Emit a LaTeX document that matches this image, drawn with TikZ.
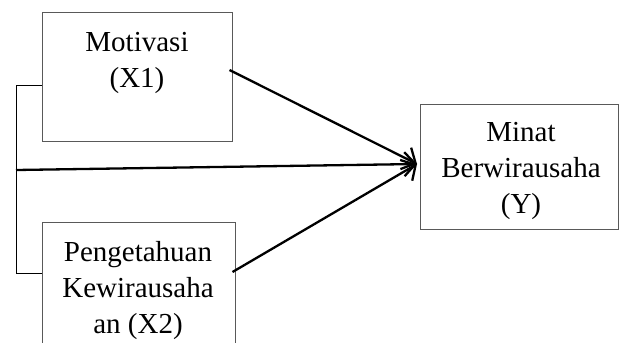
\documentclass[tikz,border=0pt]{standalone}
\usepackage{fontspec}
\setmainfont{Liberation Serif}
\usetikzlibrary{arrows.meta}

\begin{document}
\begin{tikzpicture}[x=0.5pt,y=-0.5pt,>={Straight Barb[length=5.5pt,width=12pt]},
                    every node/.style={font=\fontsize{14.5}{18}\selectfont}]
  \tikzstyle{box}=[draw=black!65,line width=0.5pt,inner sep=0pt]
  \tikzstyle{boxtext}=[align=center,inner sep=0pt]
  \tikzstyle{link}=[->,line width=1.15pt]

  \useasboundingbox (0,0) rectangle (619,342);
  \clip (0,0) rectangle (619,342);

  % boxes
  \node[box,minimum width=95pt,minimum height=64pt] (x1) at (137,77) {};
  \node[box,minimum width=96.5pt,minimum height=70pt] (x2) at (138.5,292) {};
  \node[box,minimum width=99.25pt,minimum height=62.5pt] (y) at (519.25,166.5) {};

  \node[boxtext] (x1text) at (137,63) {Motivasi\\(X1)};
  \node[boxtext] (x2text) at (138,291) {Pengetahuan\\Kewirausaha\\an (X2)};
  \node[boxtext] (ytext) at (521,171) {Minat\\Berwirausaha\\(Y)};

  \coordinate (tip) at (417,164);
  \coordinate (top) at (16,85);
  \coordinate (mid) at (16,170);
  \coordinate (bot) at (16,273);

  % bracket on the left
  \draw[line width=0.5pt] ([yshift=-4pt]x1.west) -- (top) -- (bot) -- ([yshift=9.5pt]x2.west);

  \draw[link] ([yshift=3.5pt,xshift=-1.5pt]x1.east) -- (tip);
  \draw[link] (mid) -- (tip);
  \draw[link] ([yshift=10pt,xshift=-1.5pt]x2.east) -- (tip);
\end{tikzpicture}
\end{document}
